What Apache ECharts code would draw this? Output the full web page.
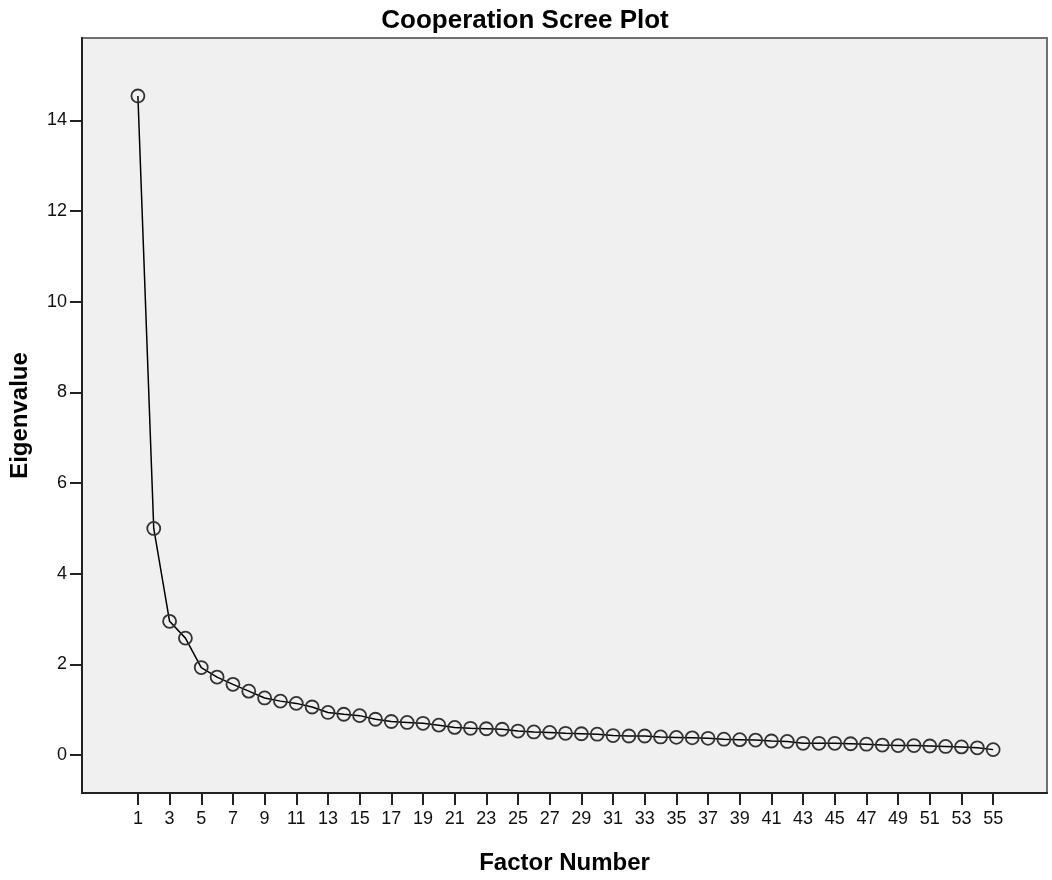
<!DOCTYPE html>
<html><head><meta charset="utf-8">
<script src="https://cdn.jsdelivr.net/npm/echarts@6/dist/echarts.min.js"></script>
<style>html,body{margin:0;padding:0;background:#fff}#c{width:1052px;height:880px}</style>
</head><body><div id="c"></div>
<script>
const factors = Array.from({length:55}, (_, i) => i + 1);
const eigenvalues = [14.54, 5.00, 2.95, 2.58, 1.93, 1.72, 1.56, 1.41, 1.26, 1.19,
  1.14, 1.06, 0.94, 0.90, 0.87, 0.79, 0.74, 0.72, 0.70, 0.66,
  0.61, 0.59, 0.58, 0.57, 0.53, 0.51, 0.50, 0.48, 0.47, 0.46,
  0.43, 0.42, 0.42, 0.40, 0.39, 0.38, 0.37, 0.35, 0.34, 0.33,
  0.31, 0.30, 0.26, 0.26, 0.26, 0.25, 0.24, 0.22, 0.21, 0.21,
  0.20, 0.19, 0.18, 0.16, 0.12];
const xTicks = factors.filter(v => v % 2 === 1);
const yTicks = [0, 2, 4, 6, 8, 10, 12, 14];

const font = 'Liberation Sans, Arial, sans-serif';
const chart = echarts.init(document.getElementById('c'), null, {renderer:'canvas'});
chart.setOption({
  animation: false,
  title: {
    text: 'Cooperation Scree Plot', left: 520, top: 3, textAlign: 'center',
    textStyle: {fontFamily: font, fontSize: 26, fontWeight: 'bold', color: '#000'}
  },
  grid: {left: 80, top: 38, right: 5, bottom: 86, show: true,
    backgroundColor: '#f0f0f0', borderColor: '#707070', borderWidth: 2},
  xAxis: {
    type: 'value', min: -2.53, max: 58.4,
    name: 'Factor Number', nameLocation: 'middle', nameGap: 58,
    nameTextStyle: {fontFamily: font, fontSize: 24, fontWeight: 'bold', color: '#000'},
    axisLine: {show: true, onZero: false, lineStyle: {color: '#222', width: 2}},
    axisTick: {show: true, customValues: xTicks, length: 12, lineStyle: {color: '#222', width: 2}},
    axisLabel: {customValues: xTicks, fontFamily: font, fontSize: 18, color: '#111', margin: 17},
    splitLine: {show: false}
  },
  yAxis: {
    type: 'value', min: -0.837, max: 15.82,
    name: 'Eigenvalue', nameLocation: 'middle', nameGap: 50, nameRotate: 90,
    nameTextStyle: {fontFamily: font, fontSize: 24, fontWeight: 'bold', color: '#000'},
    axisLine: {show: true, onZero: false, lineStyle: {color: '#222', width: 2}},
    axisTick: {show: true, customValues: yTicks, length: 12, lineStyle: {color: '#222', width: 2}},
    axisLabel: {customValues: yTicks, fontFamily: font, fontSize: 18, color: '#111', margin: 15},
    splitLine: {show: false}
  },
  series: [{
    type: 'line',
    data: factors.map((f, i) => [f, eigenvalues[i]]),
    symbol: 'circle', symbolSize: 13,
    lineStyle: {color: '#000', width: 1.5},
    itemStyle: {color: 'rgba(0,0,0,0)', borderColor: '#333', borderWidth: 1.8}
  }]
});
</script></body></html>
